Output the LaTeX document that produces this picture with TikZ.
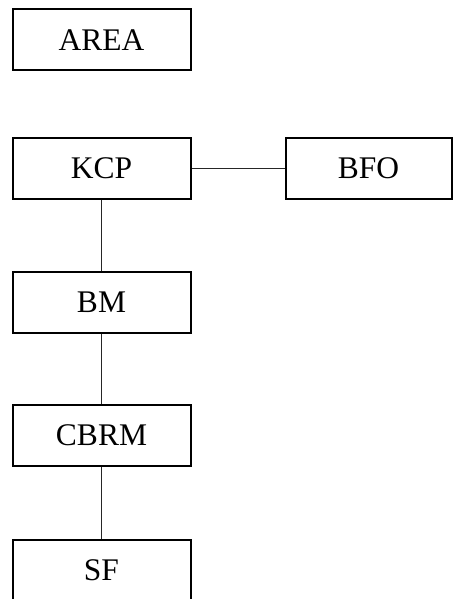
\documentclass[tikz,border=0pt]{standalone}
\usepackage{fontspec}
\setmainfont{Liberation Serif}
\begin{document}
\begin{tikzpicture}[x=1pt,y=-1pt,
  blk/.style={draw=black, line width=2pt, minimum width=178pt, minimum height=61pt, inner sep=0pt, font=\fontsize{31.5}{34}\selectfont},
  conn/.style={draw=black!85, line width=1pt}]
\useasboundingbox (0,0) rectangle (453,599);
\node[blk] (area) at (101.5,40) {AREA};
\node[blk] (kcp) at (101.5,168) {KCP};
\node[blk, minimum width=166pt] (bfo) at (368.5,168) {BFO};
\node[blk] (bm) at (101.5,302) {BM};
\node[blk] (cbrm) at (101.5,435.5) {CBRM};
\node[blk] (sf) at (101.5,570) {SF};
\draw[conn] (kcp.east) -- (bfo.west);
\draw[conn] (kcp.south) -- (bm.north);
\draw[conn] (bm.south) -- (cbrm.north);
\draw[conn] (cbrm.south) -- (sf.north);
\end{tikzpicture}
\end{document}
